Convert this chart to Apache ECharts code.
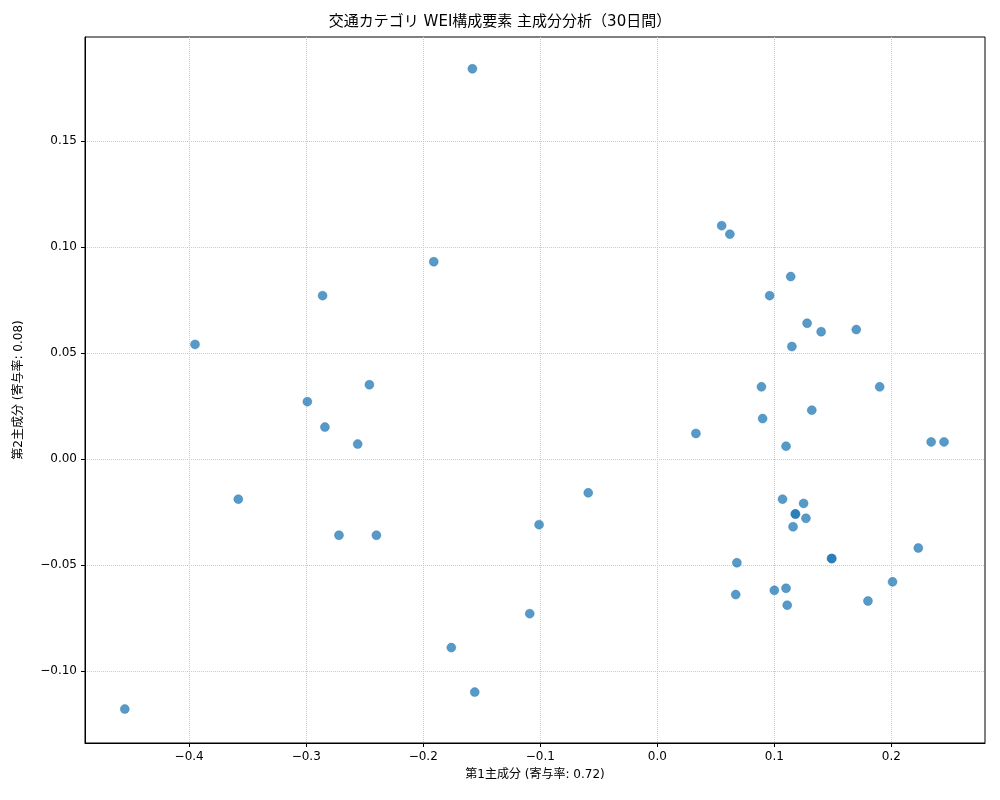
<!DOCTYPE html>
<html><head><meta charset="utf-8">
<script src="https://cdn.jsdelivr.net/npm/echarts@6/dist/echarts.min.js"></script>
<style>html,body{margin:0;background:#fff}#c{width:1000px;height:800px}</style>
</head><body><div id="c"></div>
<script>
const pc1 = [-0.158,0.055,0.062,-0.191,0.114,-0.286,0.096,0.128,0.140,0.170,-0.395,0.115,-0.246,0.089,0.190,-0.299,0.132,0.090,-0.284,0.033,-0.256,0.234,0.245,0.110,-0.059,-0.358,0.107,0.125,0.118,0.118,0.127,0.116,-0.101,-0.272,-0.240,0.223,0.149,0.149,0.068,0.201,0.110,0.100,0.067,0.111,0.180,-0.109,-0.176,-0.156,-0.455];
const pc2 = [0.184,0.110,0.106,0.093,0.086,0.077,0.077,0.064,0.060,0.061,0.054,0.053,0.035,0.034,0.034,0.027,0.023,0.019,0.015,0.012,0.007,0.008,0.008,0.006,-0.016,-0.019,-0.019,-0.021,-0.026,-0.026,-0.028,-0.032,-0.031,-0.036,-0.036,-0.042,-0.047,-0.047,-0.049,-0.058,-0.061,-0.062,-0.064,-0.069,-0.067,-0.073,-0.089,-0.110,-0.118];
const xTicks = [-0.4,-0.3,-0.2,-0.1,0.0,0.1,0.2];
const yTicks = [-0.10,-0.05,0.00,0.05,0.10,0.15];
const font = '"DejaVu Sans", "Noto Sans CJK JP", sans-serif';
const data = pc1.map((x,i)=>[x,pc2[i]]);
function axis(min,max,ticks,dec,name,gap){
  return {type:'value',min,max,name,nameLocation:'middle',nameGap:gap,
    nameTextStyle:{fontFamily:font,fontSize:12,color:'#000'},
    axisLine:{onZero:false,lineStyle:{color:'#000'}},
    axisTick:{show:true,customValues:ticks,length:4,lineStyle:{color:'#000'}},
    axisLabel:{customValues:ticks,fontFamily:font,fontSize:12,color:'#000',
      formatter:v=>{const t=Math.abs(v)<1e-9?0:v;return (t<0?'\u2212':'')+Math.abs(t).toFixed(dec);}},
    splitLine:{show:true,lineStyle:{color:'#ccc',type:'dotted'}}};
}
const chart = echarts.init(document.getElementById('c'));
const xa = axis(-0.489,0.280,xTicks,1,'第1主成分 (寄与率: 0.72)',26);
const ya = axis(-0.134,0.199,yTicks,2,'第2主成分 (寄与率: 0.08)',60);
chart.setOption({
  animation:false,
  title:{text:'交通カテゴリ WEI構成要素 主成分分析（30日間）',left:'center',top:10,
    textStyle:{fontFamily:font,fontSize:15,fontWeight:'normal',color:'#000'}},
  grid:{left:85,right:15,top:37,bottom:57,show:true,borderColor:'#000',borderWidth:1},
  xAxis:xa, yAxis:ya,
  series:[{type:'scatter',data,symbolSize:9,
    itemStyle:{color:'#1f77b4',opacity:0.75,borderColor:'#1f77b4',borderWidth:0.5}}]
});
</script></body></html>
